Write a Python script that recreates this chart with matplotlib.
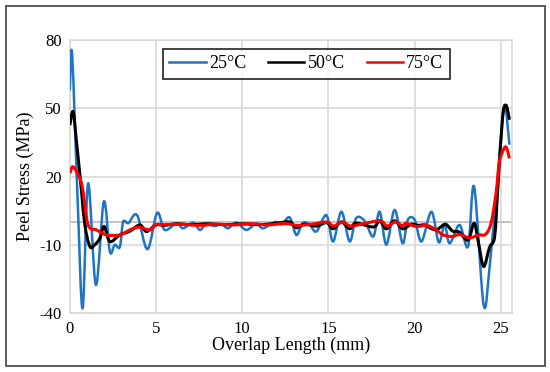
import matplotlib.pyplot as plt
from matplotlib.patches import Rectangle, PathPatch
from matplotlib.path import Path
from matplotlib.lines import Line2D

plt.rcParams['font.family'] = ['Liberation Serif', 'DejaVu Serif']
plt.rcParams['axes.unicode_minus'] = False

# 25 C
x25 = [0, 0.13, 0.45, 0.74, 1.06, 1.51, 1.97, 2.32, 2.6, 2.9, 3.09, 3.4, 3.9, 4.5,
       5.06, 5.5, 6.2, 6.57, 7.15, 7.54, 7.9, 8.4, 8.8, 9.18, 9.66, 10.24, 10.82,
       11.2, 11.9, 12.3, 12.75, 13.14, 13.5, 13.9, 14.3, 14.88, 15.27, 15.75, 16.23,
       16.6, 17.1, 17.6, 17.97, 18.36, 18.84, 19.3, 19.6, 20.0, 20.4, 20.97, 21.4,
       21.74, 22.03, 22.6, 23.1, 23.45, 24.0, 24.35, 24.83, 25.2, 25.5]
y25 = [58, 74, 10, -38, 17, -27.7, 9, -13, -10, -11, 0, -0.5, 3, -12,
       4, -3.5, -0.6, -2.8, -0.3, -3.5, -1, -1.8, -1, -2.8, -0.3, -3.5, -0.6,
       -2.8, 0, -1, 2, -5.7, -0.5, -1, -4.2, 3, -8.6, 4.5, -8.6,
       1.6, 0.5, -6.4, 4.5, -10, 5.3, -9.4, 0.9, 1, -8.6, 4.5, -9,
       -1.3, -9.4, -1.3, -10.8, 15.5, -36.5, -19.6, 20, 50.7, 34]

# 50 C
x50 = [0, 0.19, 0.39, 0.68, 0.87, 1.16, 1.45, 1.74, 1.99, 2.32, 2.9, 3.5, 4.06, 4.45,
       5.0, 5.5, 6.2, 7.0, 8.0, 9.0, 10.0, 11.0, 12.0, 12.75, 13.14, 13.6, 14.3, 14.9,
       15.27, 15.75, 16.23, 16.6, 17.6, 17.97, 18.36, 18.84, 19.3, 19.8, 20.2, 20.6,
       20.9, 21.25, 21.45, 21.8, 22.2, 22.6, 23.1, 23.45, 23.7, 24.0, 24.35, 24.64,
       24.83, 25.1, 25.3, 25.5]
y50 = [42.6, 48.5, 35, 13.3, -1.3, -10.8, -10, -7.2, -2, -8.6, -5.7, -4, -1.3, -4.2,
       -1.3, -1.5, -0.8, -1.2, -0.8, -1.2, -0.8, -1.2, -0.5, 0, -2.5, -1, -1.8, -0.3,
       -3, 0, -3, -0.5, -2.2, 0.5, -3, 0.5, -3, -1, -1.5, -1.3,
       -2.7, -3.5, -2.6, -1, -4, -4.5, -8, -0.6, -9, -19.6, -11, -6.4,
       15.7, 46, 51.4, 45]

# 75 C
x75 = [0, 0.19, 0.58, 0.77, 1.06, 1.55, 2.13, 2.9, 3.48, 4.0, 4.64, 5.0, 5.5, 6.5,
       7.5, 8.5, 9.5, 10.5, 11.5, 12.5, 13.2, 14.0, 14.9, 15.3, 15.8, 16.3, 17.0,
       18.0, 18.4, 18.9, 19.3, 19.5, 20.1, 20.7, 21.25, 21.65, 22.2, 22.6, 23.2,
       23.7, 24.1, 24.43, 24.72, 24.9, 25.1, 25.3, 25.5]
y75 = [21.4, 24.3, 19.2, 13.3, -1.3, -3.5, -5.7, -5.7, -3.5, -2.3, -3.5, -1.2, -1.2, -1.0,
       -1.5, -1.0, -1.3, -0.8, -1.3, -0.7, -1.5, -1.0, 0, -1.8, 0, -1.8, -0.8,
       0.5, -1.8, 0, -1.8, -0.6, -2, -1.5, -3.5, -5.7, -6.4, -5.5, -7,
       -5.7, -5.5, -0.6, 12.6, 25.8, 30.9, 33, 28]

labels = ['25°C', '50°C', '75°C']
colors = ['#1f74c6', '#000000', '#ff0000']


def smooth_path(xs, ys):
    # Excel-style smoothed line: Catmull-Rom drawn as cubic Bezier segments
    pts = list(zip(xs, ys))
    verts = [pts[0]]
    codes = [Path.MOVETO]
    n = len(pts)
    for i in range(n - 1):
        p0 = pts[max(i - 1, 0)]
        p1 = pts[i]
        p2 = pts[i + 1]
        p3 = pts[min(i + 2, n - 1)]
        c1 = (p1[0] + (p2[0] - p0[0]) / 6, p1[1] + (p2[1] - p0[1]) / 6)
        c2 = (p2[0] - (p3[0] - p1[0]) / 6, p2[1] - (p3[1] - p1[1]) / 6)
        verts += [c1, c2, p2]
        codes += [Path.CURVE4] * 3
    return Path(verts, codes)


fig = plt.figure(figsize=(5.5, 3.72), dpi=100)
ax = fig.add_axes([0.127, 0.159, 0.804, 0.733])

fig.patches.append(Rectangle((0.011, 0.016), 0.980, 0.968, transform=fig.transFigure,
                             fill=False, edgecolor='#404040', linewidth=1.2))

ax.axhline(0, color='#bfbfbf', linewidth=1.3, zorder=1)
series = [(x25, y25, 1.8), (x50, y50, 2.2), (x75, y75, 2.2)]
handles = []
for k, (xs, ys, lw) in enumerate(series):
    ax.add_patch(PathPatch(smooth_path(xs, ys), fill=False, edgecolor=colors[k],
                           linewidth=lw, zorder=3 + k, joinstyle='round', capstyle='butt'))
    handles.append(Line2D([], [], color=colors[k], linewidth=1.8, label=labels[k]))

ax.set_xlim(0, 25.65)
ax.set_ylim(-40, 80)
ax.set_xticks(range(0, 26, 5))
ax.set_yticks([-40, -10, 20, 50, 80])
ax.grid(True, color='#d9d9d9', linewidth=1.2)
ax.set_axisbelow(True)
for s in ax.spines.values():
    s.set_color('#d9d9d9')
    s.set_linewidth(1.2)
ax.tick_params(length=0, labelsize=12, pad=6)

ax.set_xlabel('Overlap Length (mm)', fontsize=13, labelpad=0)
ax.set_ylabel('Peel Stress (MPa)', fontsize=13, labelpad=4)

leg = ax.legend(handles=handles, loc='upper center', bbox_to_anchor=(0.535, 0.967), ncol=3,
                fontsize=13, frameon=True, fancybox=False, edgecolor='black',
                handlelength=2.0, handletextpad=0.2, columnspacing=1.2, borderpad=0.35,
                borderaxespad=0)
leg.get_frame().set_linewidth(1.3)

fig.savefig('out.png', dpi=100)
